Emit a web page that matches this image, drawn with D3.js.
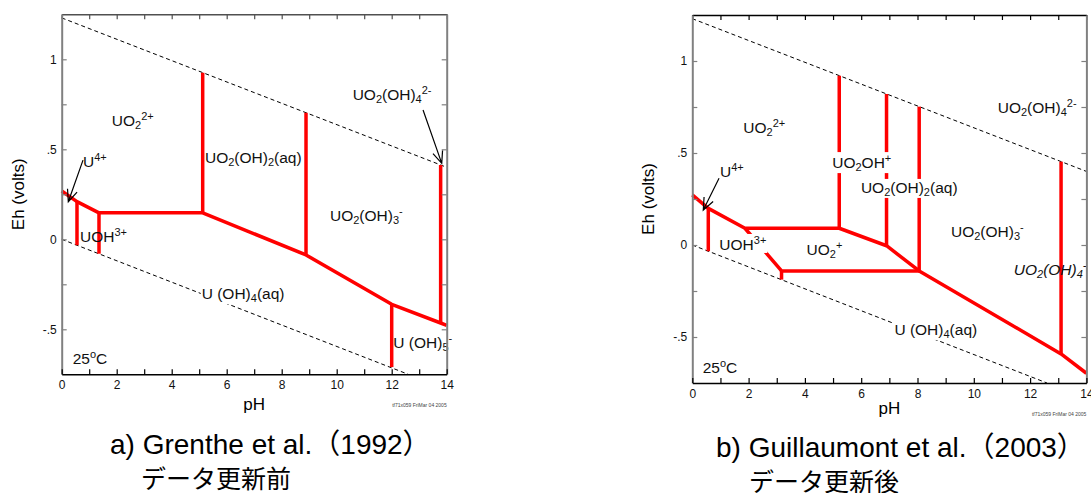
<!DOCTYPE html>
<html>
<head>
  <meta http-equiv="Content-Type" content="text/html;charset=utf-8">
  <title>U Eh-pH</title>
  <script src="https://d3js.org/d3.v7.min.js"></script>
  <style>
    html, body { margin: 0; padding: 0; background: #fff; }
    svg { display: block; font-family: "Liberation Sans", Arial, "Noto Sans CJK JP", sans-serif; }
    .bound { stroke: #ff0000; fill: none; stroke-width: 3.5px; stroke-linejoin: round; }
    .water { stroke: #000; fill: none; stroke-width: 1px; stroke-dasharray: 4 3; }
    .arrow { stroke: #000; fill: none; stroke-width: 1.2px; }
    .lab { font-size: 15.5px; fill: #111; }
    .tick text { font-size: 12px; fill: #111; font-family: "Liberation Sans", Arial, sans-serif; }
    .title { font-size: 28px; fill: #000; }
    .jp { font-size: 25px; fill: #000; font-family: "Noto Sans CJK JP", sans-serif; }
  </style>
</head>
<body>
<script>
  // axes
  var phTicks = [0,1,2,3,4,5,6,7,8,9,10,11,12,13,14];
  var phLabels = [0,2,4,6,8,10,12,14];
  var ehTicks = [-0.5,-0.25,0,0.25,0.5,0.75,1];
  var ehLabelValues = [-0.5,0,0.5,1];
  var ehLabelText = ["-.5","0",".5","1"];

  // water stability lines (pH, Eh)
  var waterUpper = [[0,1.23],[14,0.40]];
  var waterLower = [[0,0],[12.6,-0.75]];

  // a) Grenthe et al. (1992)
  var boundsA = [
    [[0,0.268],[0.556,0.209],[1.356,0.147],[5.127,0.147],[8.884,-0.087],[12.0,-0.361],[13.78,-0.465],[14,-0.478]],
    [[0.556,0.209],[0.556,-0.033]],
    [[1.356,0.147],[1.356,-0.080]],
    [[5.127,0.147],[5.127,0.925]],
    [[8.884,-0.087],[8.884,0.703]],
    [[12.0,-0.361],[12.0,-0.710]],
    [[13.78,-0.465],[13.78,0.413]]
  ];
  var labelsA = [
    ["UO_{2}^{2+}", 1.82, 0.629],
    ["U^{4+}", 0.775, 0.403],
    ["UO_{2}(OH)_{2}(aq)", 5.21, 0.424],
    ["UO_{2}(OH)_{4}^{2-}", 10.58, 0.774],
    ["UO_{2}(OH)_{3}^{-}", 9.756, 0.10],
    ["UOH^{3+}", 0.665, -0.013],
    ["U (OH)_{4}(aq)", 5.09, -0.332],
    ["U (OH)_{5}^{-}", 12.06, -0.606],
    ["25^{o}C", 0.4, -0.693]
  ];
  var boxedA = ["U (OH)_{4}(aq)"];
  var arrowsA = [
    [[0.775,0.44],[0.24,0.209]],
    [[13.14,0.718],[13.82,0.422]]
  ];
  var titleA = ["a) Grenthe et al.（1992）", "データ更新前"];

  // b) Guillaumont et al. (2003)
  var boundsB = [
    [[0,0.272],[0.568,0.199],[1.87,0.091],[5.22,0.091],[6.90,-0.004],[8.06,-0.141],[13.1,-0.592],[14,-0.697]],
    [[0.568,0.199],[0.568,-0.034]],
    [[1.87,0.091],[3.17,-0.141],[8.06,-0.141]],
    [[3.17,-0.141],[3.17,-0.188]],
    [[5.22,0.091],[5.22,0.92]],
    [[6.90,-0.004],[6.90,0.82]],
    [[8.06,-0.141],[8.06,0.752]],
    [[13.1,-0.592],[13.1,0.453]]
  ];
  var labelsB = [
    ["UO_{2}^{2+}", 1.81, 0.609],
    ["U^{4+}", 0.984, 0.37],
    ["UO_{2}OH^{+}", 4.97, 0.418],
    ["UO_{2}(OH)_{2}(aq)", 5.99, 0.283],
    ["UO_{2}(OH)_{4}^{2-}", 10.85, 0.717],
    ["UO_{2}(OH)_{3}^{-}", 9.19, 0.045],
    ["UOH^{3+}", 0.96, -0.027],
    ["UO_{2}^{+}", 4.06, -0.054],
    ["U (OH)_{4}(aq)", 7.18, -0.489],
    ["25^{o}C", 0.37, -0.696]
  ];
  var italicB = [["UO_{2}(OH)_{4}^{-}", 11.42, -0.163]];
  var boxedB = ["UO_{2}OH^{+}", "UO_{2}(OH)_{2}(aq)", "UOH^{3+}", "U (OH)_{4}(aq)"];
  var arrowsB = [
    [[0.95,0.3625],[0.39,0.19]]
  ];
  var titleB = ["b) Guillaumont et al.（2003）", "データ更新後"];

  var stamp = "tf71x059 FriMar 04 2005";

  var svg = d3.select("body").append("svg")
    .attr("width", 1091)
    .attr("height", 493);

  function addLabel(g, spec, px, py, italic) {
    var t = g.append("text").attr("class", "lab").attr("x", px).attr("y", py);
    if (italic) t.style("font-style", "italic");
    var parts = spec.match(/_\{[^}]*\}|\^\{[^}]*\}|[^_^]+/g);
    var shift = 0;
    parts.forEach(function (p) {
      var k = p[0] == "_" ? 3 : (p[0] == "^" ? -6 : 0);
      var s = k ? p.slice(2, -1) : p;
      var ts = t.append("tspan").attr("dy", k - shift).text(s);
      if (k) ts.style("font-size", "11px");
      shift = k;
    });
    return t;
  }

  function drawPanel(p) {
    var x = d3.scaleLinear().domain([0, 14]).range([p.left, p.right]);
    var y = d3.scaleLinear().domain([-0.75, 1.25]).range([p.bottom, p.top]);
    var line = d3.line().x(function (d) { return x(d[0]); }).y(function (d) { return y(d[1]); });
    var g = svg.append("g");

    [waterUpper, waterLower].forEach(function (w) {
      g.append("path").attr("class", "water").attr("d", line(w));
    });

    p.bounds.forEach(function (b) {
      g.append("path").attr("class", "bound").attr("d", line(b));
    });

    p.arrows.forEach(function (a) {
      var x0 = x(a[0][0]), y0 = y(a[0][1]), x1 = x(a[1][0]), y1 = y(a[1][1]);
      var ang = Math.atan2(y0 - y1, x0 - x1);
      var L = 13, w = 0.4;
      g.append("path").attr("class", "arrow")
        .attr("d", "M" + x0 + "," + y0 + "L" + x1 + "," + y1 +
          "M" + (x1 + L * Math.cos(ang - w)) + "," + (y1 + L * Math.sin(ang - w)) +
          "L" + x1 + "," + y1 +
          "L" + (x1 + L * Math.cos(ang + w)) + "," + (y1 + L * Math.sin(ang + w)));
    });

    p.labels.forEach(function (l) {
      var t = addLabel(g, l[0], x(l[1]), y(l[2]), false);
      if (p.boxed.indexOf(l[0]) >= 0) {
        var bb = t.node().getBBox();
        g.insert("rect", function () { return t.node(); })
          .attr("x", bb.x - 1).attr("y", bb.y)
          .attr("width", bb.width + 2).attr("height", bb.height)
          .attr("fill", "#fff");
      }
    });
    (p.italic || []).forEach(function (l) {
      addLabel(g, l[0], x(l[1]), y(l[2]), true);
    });

    // frame axes, ticks pointing inward
    var fmtX = function (d) { return phLabels.indexOf(d) >= 0 ? d : ""; };
    var fmtY = function (d) { var i = ehLabelValues.indexOf(d); return i >= 0 ? ehLabelText[i] : ""; };

    var ax = [
      g.append("g").attr("transform", "translate(0," + p.top + ")")
        .call(d3.axisTop(x).tickValues(phTicks).tickSize(-5).tickSizeOuter(0).tickFormat("")),
      g.append("g").attr("transform", "translate(" + p.right + ",0)")
        .call(d3.axisRight(y).tickValues(ehTicks).tickSize(-5).tickSizeOuter(0).tickFormat("")),
      g.append("g").attr("transform", "translate(" + p.left + ",0)")
        .call(d3.axisLeft(y).tickValues(ehTicks).tickSize(-5).tickSizeOuter(0).tickPadding(5).tickFormat(fmtY)),
      g.append("g").attr("transform", "translate(0," + p.bottom + ")")
        .call(d3.axisBottom(x).tickValues(phTicks).tickSize(-5).tickSizeOuter(0).tickPadding(6).tickFormat(fmtX))
    ];
    var cols = [p.topCol, "#808080", "#808080", "#000"];
    var wids = [1.5, 2, 2, 1.6];
    ax.forEach(function (a, i) {
      a.select(".domain").attr("stroke", cols[i]).attr("stroke-width", wids[i]);
      a.selectAll(".tick line").attr("stroke", cols[i]).attr("stroke-width", 1.2);
    });

    g.append("text").attr("x", (p.left + p.right) / 2).attr("y", p.phY)
      .attr("text-anchor", "middle").style("font-size", "17px").text("pH");
    g.append("text")
      .attr("transform", "translate(" + p.ehX + "," + (p.top + p.bottom) / 2 + ") rotate(-90)")
      .attr("text-anchor", "middle").style("font-size", "17px").text("Eh (volts)");
    g.append("text").attr("x", p.right).attr("y", p.stampY)
      .attr("text-anchor", "end").style("font-size", "5px").attr("fill", "#444").text(stamp);

    g.append("text").attr("class", "title").attr("x", p.tx1).attr("y", p.ty1).text(p.title[0]);
    g.append("text").attr("class", "jp").attr("x", p.tx2).attr("y", p.ty2).text(p.title[1]);
  }

  drawPanel({
    left: 61.7, right: 446.7, top: 14.3, bottom: 374.3,
    bounds: boundsA, labels: labelsA, boxed: boxedA, arrows: arrowsA,
    topCol: "#505050", phY: 410, ehX: 24, stampY: 407,
    title: titleA, tx1: 110, ty1: 454, tx2: 141, ty2: 488
  });

  drawPanel({
    left: 692.3, right: 1086.4, top: 15, bottom: 383,
    bounds: boundsB, labels: labelsB, boxed: boxedB, arrows: arrowsB, italic: italicB,
    topCol: "#000", phY: 414, ehX: 654, stampY: 416,
    title: titleB, tx1: 716, ty1: 457, tx2: 749, ty2: 491
  });
</script>
</body>
</html>
